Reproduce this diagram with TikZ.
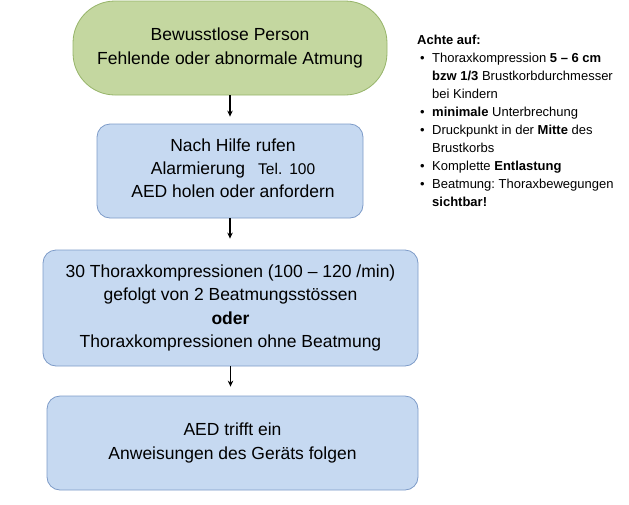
\documentclass[tikz,border=0pt]{standalone}
\usepackage{fontspec}
\setmainfont{Liberation Sans}
\usetikzlibrary{arrows.meta}
\frenchspacing
\definecolor{greenfill}{RGB}{196,215,160}
\definecolor{greenline}{RGB}{150,180,105}
\definecolor{bluefill}{RGB}{198,217,241}
\definecolor{blueline}{RGB}{125,155,200}
\tikzset{
  stadium/.style={draw=greenline, fill=greenfill, line width=0.8pt, rounded corners=42pt,
    inner sep=0pt, align=center, font=\fontsize{17.5}{23.5}\selectfont},
  bluebox/.style={draw=blueline, fill=bluefill, line width=0.8pt, rounded corners=13pt,
    inner sep=0pt, align=center, font=\fontsize{17.5}{23.5}\selectfont},
  flowarrow/.style={-{Stealth[length=6pt,width=5.5pt]}, line width=1.4pt, black},
}
\newcommand{\bul}{\makebox[15pt][l]{\hspace{3pt}•}}
\begin{document}
\begin{tikzpicture}[x=1pt,y=-1pt]
\useasboundingbox (0,0) rectangle (629,504);
\node[stadium, minimum width=314pt, minimum height=94pt] (g) at (230,48)
  {Bewusstlose Person\\Fehlende oder abnormale Atmung};
\node[bluebox, minimum width=266pt, minimum height=94pt] (b) at (230,171) {};
\node[align=center, inner sep=0pt, font=\fontsize{17.5}{23}\selectfont] (bt) at (233,168)
  {Nach Hilfe rufen\\Alarmierung\hspace{13pt}{\fontsize{15.5}{23}\selectfont Tel.\hspace{7pt}100}\\AED holen oder anfordern};
\node[bluebox, minimum width=375pt, minimum height=116pt] (c) at (230.5,308)
  {30 Thoraxkompressionen (100 – 120 /min)\\gefolgt von 2 Beatmungsstössen\\\textbf{oder}\\Thoraxkompressionen ohne Beatmung};
\node[bluebox, minimum width=371pt, minimum height=94pt] (d) at (232.5,443)
  {AED trifft ein\\Anweisungen des Geräts folgen};
\draw[flowarrow, shorten >=7pt] (g.south) -- (g.south |- b.north);
\draw[flowarrow, shorten >=11pt] (b.south) -- (b.south |- c.north);
\draw[flowarrow, shorten >=9pt] (c.south) -- (c.south |- d.north);
\node[anchor=north west, align=left, inner sep=0pt, font=\fontsize{13}{18}\selectfont] (note) at (417,35)
  {\textbf{Achte auf:}\\
   \bul Thoraxkompression \textbf{5 – 6 cm}\\
   \hphantom{\bul}\textbf{bzw 1/3} Brustkorbdurchmesser\\
   \hphantom{\bul}bei Kindern\\
   \bul\textbf{minimale} Unterbrechung\\
   \bul Druckpunkt in der \textbf{Mitte} des\\
   \hphantom{\bul}Brustkorbs\\
   \bul Komplette \textbf{Entlastung}\\
   \bul Beatmung: Thoraxbewegungen\\
   \hphantom{\bul}\textbf{sichtbar!}};
\end{tikzpicture}
\end{document}
